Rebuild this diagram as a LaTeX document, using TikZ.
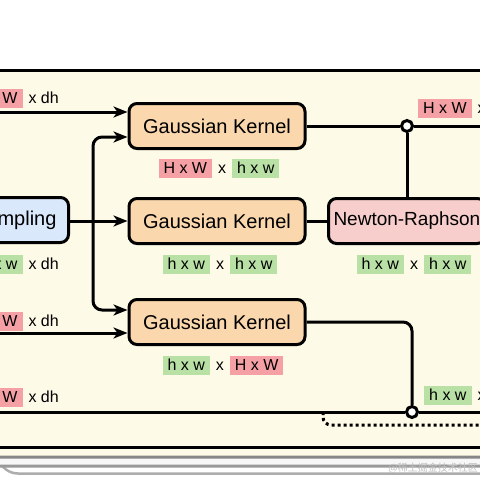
\documentclass[tikz,border=0pt]{standalone}
\usepackage{fontspec}
\setmainfont{Liberation Sans}
\newfontfamily\cjkfont{Noto Sans CJK SC}
\usetikzlibrary{arrows.meta}

\definecolor{panelbg}{HTML}{FEFAE8}
\definecolor{gaussfill}{HTML}{FAD7AC}
\definecolor{sampfill}{HTML}{DAE8FC}
\definecolor{nrfill}{HTML}{F8CECC}
\definecolor{tagred}{HTML}{F5A0A5}
\definecolor{taggreen}{HTML}{B9E0A5}

\newcommand{\tagbox}[2]{{\setlength{\fboxsep}{0pt}\colorbox{#1}{\rule[-4pt]{0pt}{19pt}\hspace{5pt}#2\hspace{5pt}}}}
\newcommand{\pk}[1]{\tagbox{tagred}{#1}}
\newcommand{\gr}[1]{\tagbox{taggreen}{#1}}
\newcommand{\tx}{\hspace{6pt}x\hspace{6pt}}

\tikzset{
  box/.style={draw, line width=3pt, rounded corners=8pt, font=\fontsize{20}{24}\selectfont, minimum height=45pt, inner sep=0pt},
  gauss/.style={box, fill=gaussfill, minimum width=176pt},
  conn/.style={line width=3pt},
  feed/.style={conn, -{Stealth[length=14pt,width=11pt,inset=4pt]}},
  tap/.style={line width=3pt, dash pattern=on 3pt off 3pt},
  junction/.style={circle, draw, line width=3pt, fill=white, minimum size=11pt, inner sep=0pt},
  dims/.style={inner sep=0pt, font=\fontsize{16}{19}\selectfont},
}

\begin{document}
\begin{tikzpicture}[x=1pt,y=-1pt]
  \useasboundingbox (0,0) rectangle (480,480);
  \clip (0,0) rectangle (480,480);

  % stacked sheets behind the panel
  \draw[line width=2.5pt, draw=black!32, fill=white, rounded corners=20pt] (-2,90) rectangle (520,473.5);
  \draw[line width=3pt, draw=black!40, fill=black!3, rounded corners=20pt] (-30,85) rectangle (520,466);
  \draw[line width=3pt, draw=black!47, fill=panelbg, rounded corners=20pt] (-40,80) rectangle (520,457);
  \draw[line width=3pt, fill=panelbg] (-40,70.5) rectangle (520,447.5);

  % blocks
  \node[box, fill=sampfill, anchor=east, minimum width=97pt, inner xsep=12pt] (samp) at (70,220) {Sampling};
  \node[gauss] (gk1) at (217,126) {Gaussian Kernel};
  \node[gauss] (gk2) at (217,221) {Gaussian Kernel};
  \node[gauss] (gk3) at (217,322) {Gaussian Kernel};
  \node[box, fill=nrfill, anchor=west, inner xsep=5pt, font=\fontsize{19}{23}\selectfont] (nr) at (327,221) {Newton-Raphson\hspace{12pt}};

  \node[junction] (j1) at (407,126) {};
  \node[junction] (j2) at (412,412) {};

  \coordinate (inA) at (-10,112);
  \coordinate (inB) at (-10,333);
  \coordinate (inC) at (-10,412);
  \coordinate (split) at (93,221);
  \coordinate (outA) at (490,126);
  \coordinate (outC) at (490,412);
  \coordinate (dotA) at (323,412);
  \coordinate (dotB) at (490,425);

  % connectors
  \draw[feed] (inA) -- ([yshift=14pt]gk1.west);
  \draw[feed, rounded corners=9pt] (split) |- ([yshift=-11pt]gk1.west);
  \draw[feed, rounded corners=9pt] (split) |- ([yshift=12pt]gk3.west);
  \draw[feed] (samp.east |- split) -- (gk2.west);
  \draw[feed] (inB) -- ([yshift=-11pt]gk3.west);
  \draw[conn] (gk1.east) -- (j1);
  \draw[conn] (j1) -- (outA);
  \draw[conn] (j1) -- (j1 |- nr.north);
  \draw[conn] (gk2.east) -- (nr.west);
  \draw[conn, rounded corners=9pt] (gk3.east) -| (j2);
  \draw[conn] (inC) -- (j2);
  \draw[conn] (j2) -- (outC);
  \draw[tap, rounded corners=8pt] (dotA) |- (dotB);

  % sizes
  \node[dims, anchor=east] (szA) at (59,98) {\pk{H x W}\hspace{6pt}x dh};
  \node[dims, anchor=east] (szB) at (59,264) {\gr{h x w}\hspace{6pt}x dh};
  \node[dims, anchor=east] (szC) at (59,321) {\pk{H x W}\hspace{6pt}x dh};
  \node[dims, anchor=east] (szD) at (59,397) {\pk{H x W}\hspace{6pt}x dh};
  \node[dims] (szE) at (219,168) {\pk{H x W}\tx\gr{h x w}};
  \node[dims] (szF) at (220,264) {\gr{h x w}\tx\gr{h x w}};
  \node[dims] (szG) at (223,365) {\gr{h x w}\tx\pk{H x W}};
  \node[dims] (szH) at (414,264) {\gr{h x w}\tx\gr{h x w}};
  \node[dims, anchor=west] (szI) at (418,108) {\pk{H x W}\hspace{6pt}x};
  \node[dims, anchor=west] (szJ) at (424,395) {\gr{h x w}\hspace{6pt}x};

  \node[inner sep=0pt, text=black!25, font=\cjkfont\fontsize{10}{12}\selectfont, anchor=east] (mark) at (478,468) {@稀土掘金技术社区};
\end{tikzpicture}
\end{document}
